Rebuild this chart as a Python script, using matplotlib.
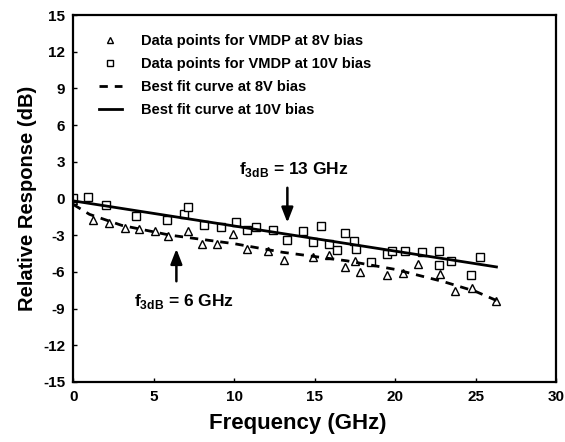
import matplotlib
import matplotlib.pyplot as plt

# Use a non-interactive backend to avoid GUI-related issues
matplotlib.use("Agg")

plt.rcParams["font.family"] = ["Liberation Sans", "DejaVu Sans"]
plt.rcParams["font.weight"] = "bold"
plt.rcParams["axes.unicode_minus"] = False
plt.rcParams["mathtext.fontset"] = "custom"
plt.rcParams["mathtext.rm"] = "Liberation Sans:bold"
plt.rcParams["mathtext.bf"] = "Liberation Sans:bold"

# Measured points, 8V bias (triangles)
freq_8v = [0.0, 1.2, 2.2, 3.2, 4.1, 5.1, 5.9, 7.1, 8.0, 8.9, 9.9, 10.8, 12.1,
           13.1, 14.9, 15.9, 16.9, 17.5, 17.8, 19.5, 20.5, 21.4, 22.8, 23.7,
           24.8, 26.3]
resp_8v = [-0.1, -1.8, -2.0, -2.4, -2.5, -2.7, -3.1, -2.7, -3.7, -3.7, -2.9,
           -4.1, -4.3, -5.0, -4.8, -4.6, -5.6, -5.1, -6.0, -6.3, -6.1, -5.4,
           -6.2, -7.6, -7.3, -8.4]

# Measured points, 10V bias (squares)
freq_10v = [0.0, 0.9, 2.0, 3.9, 5.8, 6.9, 7.15, 8.1, 9.2, 10.1, 10.8, 11.35,
            12.4, 13.3, 14.3, 14.9, 15.4, 15.9, 16.4, 16.9, 17.45, 17.55,
            18.5, 19.5, 19.8, 20.6, 21.65, 22.75, 22.75, 23.45, 24.7, 25.3]
resp_10v = [0.0, 0.1, -0.5, -1.4, -1.8, -1.3, -0.7, -2.2, -2.3, -1.9, -2.6,
            -2.3, -2.6, -3.4, -2.7, -3.6, -2.25, -3.75, -4.2, -2.85, -3.5,
            -4.1, -5.2, -4.55, -4.3, -4.3, -4.4, -4.3, -5.45, -5.1, -6.3, -4.8]

# Best fit curves
fit_8v_x = [0.0, 1.0, 3.0, 6.0, 10.0, 13.0, 17.0, 20.0, 23.0, 25.0, 26.4]
fit_8v_y = [-0.5, -1.3, -2.2, -3.0, -3.7, -4.4, -5.1, -5.8, -6.8, -7.6, -8.4]
fit_10v_x = [0.0, 26.3]
fit_10v_y = [-0.2, -5.6]

fig = plt.figure(figsize=(5.65, 4.42), dpi=100)
ax = fig.add_axes([0.130, 0.136, 0.854, 0.830])

ax.plot(freq_8v, resp_8v, linestyle="none", marker="^", markersize=6,
        markerfacecolor="white", markeredgecolor="black", markeredgewidth=1.0,
        label="Data points for VMDP at 8V bias")
ax.plot(freq_10v, resp_10v, linestyle="none", marker="s", markersize=5.5,
        markerfacecolor="white", markeredgecolor="black", markeredgewidth=1.0,
        label="Data points for VMDP at 10V bias")
ax.plot(fit_8v_x, fit_8v_y, color="black", linestyle=(0, (3, 2.5)), linewidth=2.0,
        label="Best fit curve at 8V bias")
ax.plot(fit_10v_x, fit_10v_y, color="black", linestyle="-", linewidth=2.0,
        label="Best fit curve at 10V bias")

# 3 dB bandwidth markers
ax.annotate("", xy=(13.3, -2.2), xytext=(13.3, 1.1),
            arrowprops=dict(arrowstyle="-|>,head_width=0.35,head_length=0.9",
                            color="black", lw=1.8))
ax.text(13.7, 2.4, r"f$_{\mathbf{3dB}}$ = 13 GHz", ha="center", va="center",
        fontsize=12.5, fontweight="bold")
ax.annotate("", xy=(6.4, -3.9), xytext=(6.4, -7.0),
            arrowprops=dict(arrowstyle="-|>,head_width=0.35,head_length=0.9",
                            color="black", lw=1.8))
ax.text(6.9, -8.4, r"f$_{\mathbf{3dB}}$ = 6 GHz", ha="center", va="center",
        fontsize=12.5, fontweight="bold")

ax.set_xlim(0, 30)
ax.set_ylim(-15, 15)
ax.set_xticks(range(0, 31, 5))
ax.set_yticks(range(-15, 16, 3))
ax.tick_params(direction="in", length=3, width=1, labelsize=11, pad=6)
for lbl in ax.get_xticklabels() + ax.get_yticklabels():
    lbl.set_fontweight("bold")
for spine in ax.spines.values():
    spine.set_linewidth(1.6)

ax.set_xlabel("Frequency (GHz)", fontsize=16, fontweight="bold", labelpad=5)
ax.xaxis.set_label_coords(0.465, -0.085)
ax.set_ylabel("Relative Response (dB)", fontsize=14.5, fontweight="bold", labelpad=4)

leg = ax.legend(loc="upper left", frameon=False, fontsize=10.5, handlelength=1.6,
                borderaxespad=0.5, labelspacing=0.62, handletextpad=1.3,
                markerscale=0.7, bbox_to_anchor=(0.025, 0.985))
for t in leg.get_texts():
    t.set_fontweight("bold")

plt.savefig("out.png", dpi=100)
plt.close()
